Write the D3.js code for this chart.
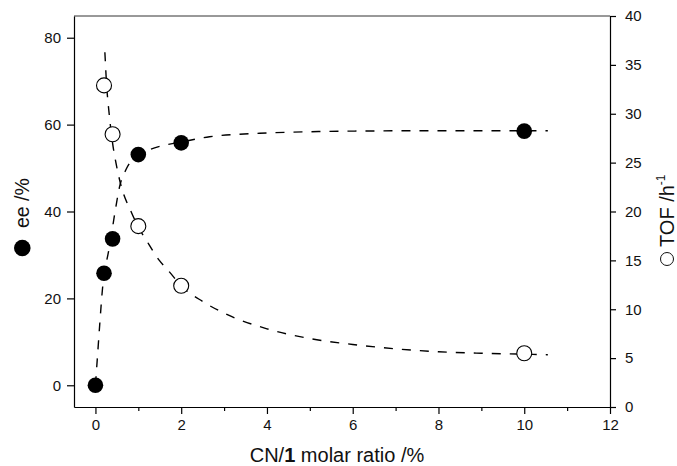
<!DOCTYPE html>
<html>
<head>
<meta charset="utf-8">
<script src="https://cdn.jsdelivr.net/npm/d3@7"></script>
<style>
  body { margin: 0; background: #fff; }
  svg { display: block; font-family: "Liberation Sans", Arial, sans-serif; }
  .axis path, .axis line { stroke: #000; stroke-width: 1.2; }
  .axis text { font-size: 15px; fill: #111; font-family: "Liberation Sans", Arial, sans-serif; }
  .fit { fill: none; stroke: #000; stroke-width: 1.4; stroke-dasharray: 9,9; }
</style>
</head>
<body>
<script>
// measured points
var eeX = [0, 0.2, 0.4, 1, 2, 10];
var eeVals = [0, 25.8, 33.7, 53.1, 55.8, 58.5];
var tofX = [0.2, 0.4, 1, 2, 10];
var tofVals = [32.9, 27.9, 18.5, 12.4, 5.5];

// dashed fit curves
var eeFitX = [0, 0.05, 0.1, 0.17, 0.25, 0.33, 0.45, 0.57, 0.71, 0.85, 1.0, 1.25, 1.5, 2.0, 2.66, 3.83, 5.2, 6.6, 8.0, 10.55];
var eeFitY = [0, 7, 14, 22.8, 28, 32, 39.5, 46, 49.6, 51.8, 53.0, 54.2, 55.0, 56.0, 57.2, 58.0, 58.4, 58.55, 58.6, 58.6];
var tofFitX = [0.22, 0.26, 0.32, 0.40, 0.5, 0.6, 0.83, 1.0, 1.18, 1.49, 1.73, 2.0, 2.5, 3.0, 4.0, 5.0, 6.0, 7.0, 8.0, 9.0, 10.0, 10.55];
var tofFitY = [36.3, 33.0, 30.0, 27.0, 24.5, 22.6, 20.0, 18.4, 17.1, 15.0, 13.8, 12.4, 10.8, 9.6, 8.0, 7.0, 6.4, 5.95, 5.65, 5.5, 5.4, 5.35];

var xTicks = [0, 2, 4, 6, 8, 10, 12];
var xMinor = [1, 3, 5, 7, 9, 11];
var yLTicks = [0, 20, 40, 60, 80];
var yRTicks = [0, 5, 10, 15, 20, 25, 30, 35, 40];

var width = 677, height = 466;
var margin = {left: 74, right: 67, top: 16, bottom: 59};

var svg = d3.select("body").append("svg")
    .attr("width", width).attr("height", height);

var x = d3.scaleLinear().domain([-0.5, 12])
    .range([margin.left, width - margin.right]);
var yL = d3.scaleLinear().domain([-5, 85])
    .range([height - margin.bottom, margin.top]);
var yR = d3.scaleLinear().domain([0, 40])
    .range([height - margin.bottom, margin.top]);

// top frame line
svg.append("line")
    .attr("x1", x.range()[0]).attr("x2", x.range()[1])
    .attr("y1", margin.top).attr("y2", margin.top)
    .attr("stroke", "#333").attr("stroke-width", 1);

// axes
svg.append("g").attr("class", "axis")
    .attr("transform", "translate(0," + (height - margin.bottom) + ")")
    .call(d3.axisBottom(x).tickValues(xMinor).tickSize(4).tickFormat(""))
    .call(function(g) { g.select(".domain").remove(); });

svg.append("g").attr("class", "axis")
    .attr("transform", "translate(0," + (height - margin.bottom) + ")")
    .call(d3.axisBottom(x).tickValues(xTicks).tickSize(7).tickSizeOuter(0).tickPadding(5));

svg.append("g").attr("class", "axis")
    .attr("transform", "translate(" + margin.left + ",0)")
    .call(d3.axisLeft(yL).tickValues(yLTicks).tickSize(7).tickSizeOuter(0).tickPadding(6));

svg.append("g").attr("class", "axis")
    .attr("transform", "translate(" + (width - margin.right) + ",0)")
    .call(d3.axisRight(yR).tickValues(yRTicks).tickSize(6).tickSizeOuter(0).tickPadding(9));

// fit curves
var eeLine = d3.line()
    .x(function(d, i) { return x(eeFitX[i]); })
    .y(function(d) { return yL(d); })
    .curve(d3.curveMonotoneX);
var tofLine = d3.line()
    .x(function(d, i) { return x(tofFitX[i]); })
    .y(function(d) { return yR(d); })
    .curve(d3.curveMonotoneX);

svg.append("path").attr("class", "fit").attr("d", eeLine(eeFitY));
svg.append("path").attr("class", "fit").attr("d", tofLine(tofFitY));

// markers
svg.selectAll("circle.ee").data(eeVals).enter().append("circle")
    .attr("class", "ee")
    .attr("cx", function(d, i) { return x(eeX[i]); })
    .attr("cy", function(d) { return yL(d); })
    .attr("r", 7.8)
    .attr("fill", "#000");

svg.selectAll("circle.tof").data(tofVals).enter().append("circle")
    .attr("class", "tof")
    .attr("cx", function(d, i) { return x(tofX[i]); })
    .attr("cy", function(d) { return yR(d); })
    .attr("r", 7.5)
    .attr("fill", "#fff")
    .attr("stroke", "#000")
    .attr("stroke-width", 1.1);

// x title
var xt = svg.append("text")
    .attr("x", 337)
    .attr("y", 462)
    .attr("text-anchor", "middle")
    .attr("font-size", 20)
    .attr("fill", "#111");
xt.append("tspan").text("CN/");
xt.append("tspan").attr("font-weight", "bold").text("1");
xt.append("tspan").text(" molar ratio /%");

// left title
var lt = svg.append("g").attr("transform", "translate(29,228) rotate(-90)");
lt.append("circle").attr("cx", -20).attr("cy", -6.7).attr("r", 8.3).attr("fill", "#000");
lt.append("text")
    .attr("x", 0).attr("y", 0)
    .attr("font-size", 19.5).attr("fill", "#111")
    .text("ee /%");

// right title
var rt = svg.append("g").attr("transform", "translate(674,247) rotate(-90)");
rt.append("circle").attr("cx", -12).attr("cy", -7).attr("r", 6.5)
    .attr("fill", "#fff").attr("stroke", "#111").attr("stroke-width", 1);
var rtt = rt.append("text")
    .attr("x", 0).attr("y", 0)
    .attr("font-size", 20).attr("fill", "#111");
rtt.append("tspan").text("TOF /h");
rtt.append("tspan").attr("font-size", 12).attr("dy", -9).text("-1");
</script>
</body>
</html>
